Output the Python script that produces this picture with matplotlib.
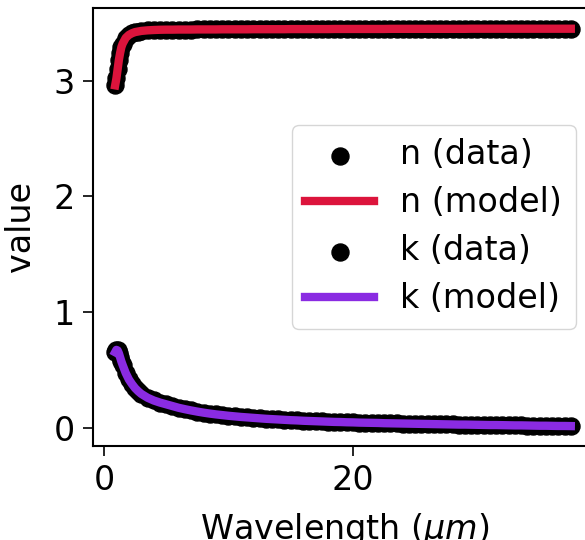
import matplotlib
matplotlib.use("Agg")
import matplotlib.pyplot as plt

wavelength = [0.9, 1.0, 1.1, 1.2, 1.3, 1.4, 1.5, 1.75, 2.0, 2.25, 2.5, 2.75, 3.0, 3.5, 4.0, 4.5,
              5.0, 5.5, 6.0, 6.5, 7.0, 7.5, 8.0, 8.5, 9.0, 9.5, 10.0, 10.5, 11.0, 11.5, 12.0, 12.5,
              13.0, 13.5, 14.0, 14.5, 15.0, 15.5, 16.0, 16.5, 17.0, 17.5, 18.0, 18.5, 19.0, 19.5,
              20.0, 20.5, 21.0, 21.5, 22.0, 22.5, 23.0, 23.5, 24.0, 24.5, 25.0, 25.5, 26.0, 26.5,
              27.0, 27.5, 28.0, 28.5, 29.0, 29.5, 30.0, 30.5, 31.0, 31.5, 32.0, 32.5, 33.0, 33.5,
              34.0, 34.5, 35.0, 35.5, 36.0, 36.5, 37.0, 37.5]

n_data = [2.96, 3.02, 3.10, 3.18, 3.24, 3.29, 3.32, 3.37, 3.395, 3.41, 3.42, 3.425, 3.43, 3.435, 3.438, 3.44,
          3.441, 3.441, 3.442, 3.442, 3.442, 3.443, 3.443, 3.443, 3.443, 3.444, 3.444, 3.444, 3.444, 3.444, 3.445, 3.445,
          3.445, 3.445, 3.445, 3.445, 3.446, 3.446, 3.446, 3.446, 3.446, 3.446, 3.446, 3.447, 3.447, 3.447,
          3.447, 3.447, 3.447, 3.447, 3.447, 3.447, 3.448, 3.448, 3.448, 3.448, 3.448, 3.448, 3.448, 3.448,
          3.448, 3.448, 3.448, 3.448, 3.448, 3.449, 3.449, 3.449, 3.449, 3.449, 3.449, 3.449, 3.449, 3.449,
          3.449, 3.449, 3.449, 3.449, 3.449, 3.449, 3.449, 3.449]

k_data = [0.655, 0.675, 0.670, 0.645, 0.610, 0.575, 0.545, 0.475, 0.420, 0.380, 0.345, 0.318, 0.295, 0.262, 0.238, 0.220,
          0.205, 0.190, 0.175, 0.163, 0.152, 0.142, 0.133, 0.125, 0.118, 0.112, 0.106, 0.101, 0.096, 0.092, 0.088, 0.084,
          0.080, 0.077, 0.074, 0.071, 0.068, 0.066, 0.063, 0.061, 0.059, 0.057, 0.055, 0.053, 0.052, 0.050,
          0.049, 0.047, 0.046, 0.045, 0.044, 0.042, 0.041, 0.040, 0.039, 0.038, 0.037, 0.036, 0.035, 0.034,
          0.033, 0.032, 0.031, 0.030, 0.030, 0.029, 0.028, 0.027, 0.026, 0.026, 0.025, 0.024, 0.023, 0.023,
          0.022, 0.021, 0.020, 0.020, 0.019, 0.018, 0.018, 0.017]

n_model = list(n_data)
k_model = list(k_data)

fs = 24
fig = plt.figure(figsize=(5.85, 5.4), dpi=100)
ax = fig.add_axes([93/585, 94/540, 502.7/585, 438/540])

ax.scatter(wavelength, n_data, s=150, color="black", label="n (data)", zorder=2)
ax.plot(wavelength, n_model, color="crimson", lw=6, label="n (model)", zorder=3)
ax.scatter(wavelength, k_data, s=150, color="black", label="k (data)", zorder=2)
ax.plot(wavelength, k_model, color="blueviolet", lw=6, label="k (model)", zorder=3)

ax.set_xlim(-0.88, 39.5)
ax.set_ylim(-0.155, 3.628)
ax.set_xticks([0, 20])
ax.set_yticks([0, 1, 2, 3])
ax.tick_params(labelsize=fs, width=1.2, length=7, pad=6)
for sp in ax.spines.values():
    sp.set_linewidth(1.5)
ax.set_xlabel(r"Wavelength ($\mu m$)", fontsize=fs, labelpad=10)
ax.set_ylabel("value", fontsize=fs, labelpad=12)

ax.legend(loc="upper left", bbox_to_anchor=(292/585, 1 - 125/540),
          bbox_transform=fig.transFigure, borderaxespad=0, fontsize=fs,
          handlelength=2.05, labelspacing=0.45)

fig.savefig("out.png", dpi=100)
